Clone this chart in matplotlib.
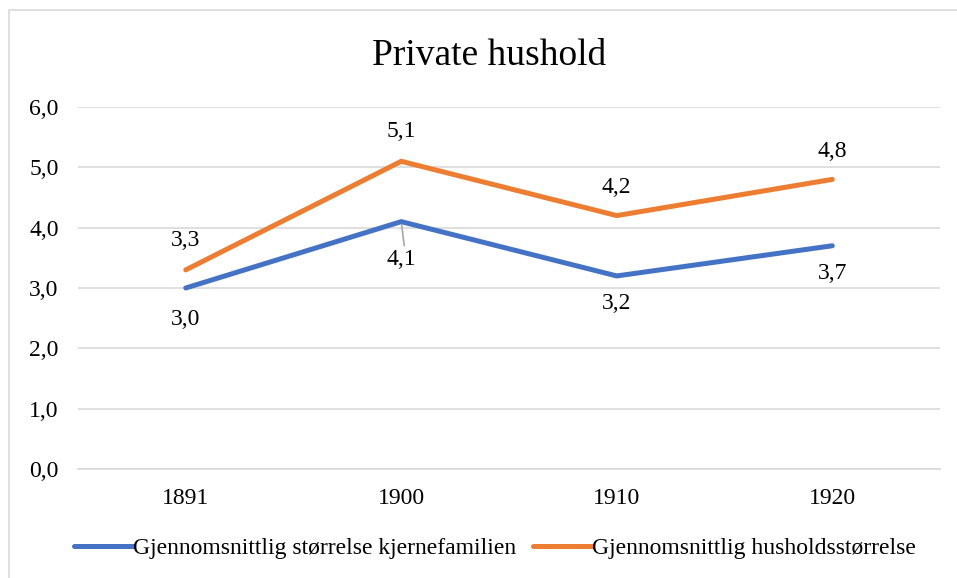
import matplotlib.pyplot as plt
from matplotlib.patches import Rectangle

# [START data]
years = ['1891', '1900', '1910', '1920']
kjernefamilien = [3.0, 4.1, 3.2, 3.7]
husholdsstorrelse = [3.3, 5.1, 4.2, 4.8]
series_names = ['Gjennomsnittlig størrelse kjernefamilien',
                'Gjennomsnittlig husholdsstørrelse']
yticks = [0, 1, 2, 3, 4, 5, 6]
# [END data]

plt.rcParams['font.family'] = ['Liberation Serif', 'DejaVu Serif']
FS = 17

W, H = 957, 578
fig = plt.figure(figsize=(W / 100, H / 100), dpi=100)

# chart border (Excel style)
fig.patches.append(Rectangle((9 / W, -0.01), 1.0, 1 - 10 / H + 0.01,
                             transform=fig.transFigure, fill=False,
                             edgecolor='#d9d9d9', linewidth=1.2))

ax = fig.add_axes([78 / W, 1 - 469 / H, (940 - 78) / W, (469 - 107) / H])

x = list(range(len(years)))
blue = '#4472c4'
orange = '#ed7d31'
ax.plot(x, kjernefamilien, color=blue, linewidth=3.6, solid_capstyle='round',
        solid_joinstyle='miter', label=series_names[0], zorder=3)
ax.plot(x, husholdsstorrelse, color=orange, linewidth=3.6, solid_capstyle='round',
        solid_joinstyle='miter', label=series_names[1], zorder=3)

ax.set_xlim(-0.5, len(years) - 0.5)
ax.set_ylim(0, 6)
ax.set_xticks(x)
ax.set_xticklabels(years)
ax.set_yticks(yticks)
ax.set_yticklabels([f'{v:.1f}'.replace('.', ',') for v in yticks])
ax.tick_params(axis='both', length=0, labelsize=FS, colors='#000000')
ax.tick_params(axis='x', pad=14)
ax.tick_params(axis='y', pad=14)
ax.grid(axis='y', color='#d9d9d9', linewidth=1.2)
ax.set_axisbelow(True)
for s in ax.spines.values():
    s.set_visible(False)
ax.spines['bottom'].set_visible(True)
ax.spines['bottom'].set_color('#d9d9d9')
ax.spines['bottom'].set_linewidth(1.2)

# data labels (baseline offsets in pixels)
blue_off = [-37, -43, -33, -33]
orange_off = [24, 24, 23, 22]
for i, v in enumerate(kjernefamilien):
    ax.annotate(f'{v:.1f}'.replace('.', ','), (i, v), xytext=(0, blue_off[i]),
                textcoords='offset pixels', ha='center', va='baseline', fontsize=FS)
for i, v in enumerate(husholdsstorrelse):
    ax.annotate(f'{v:.1f}'.replace('.', ','), (i, v), xytext=(0, orange_off[i]),
                textcoords='offset pixels', ha='center', va='baseline', fontsize=FS)
# leader line for the 4,1 label
ax.annotate('', xy=(1, kjernefamilien[1]), xytext=(3, -24),
            textcoords='offset pixels',
            arrowprops=dict(arrowstyle='-', color='#a6a6a6', linewidth=1.2,
                            shrinkA=0, shrinkB=2))

fig.text(489 / W, 1 - 65 / H, 'Private hushold', ha='center', va='baseline', fontsize=27)

fig.legend(loc='center', bbox_to_anchor=(495 / W, 1 - 548 / H), ncol=2, frameon=False,
           fontsize=FS, handlelength=2.5, handletextpad=0.0, columnspacing=0.7)

fig.savefig('out.png', dpi=100)
